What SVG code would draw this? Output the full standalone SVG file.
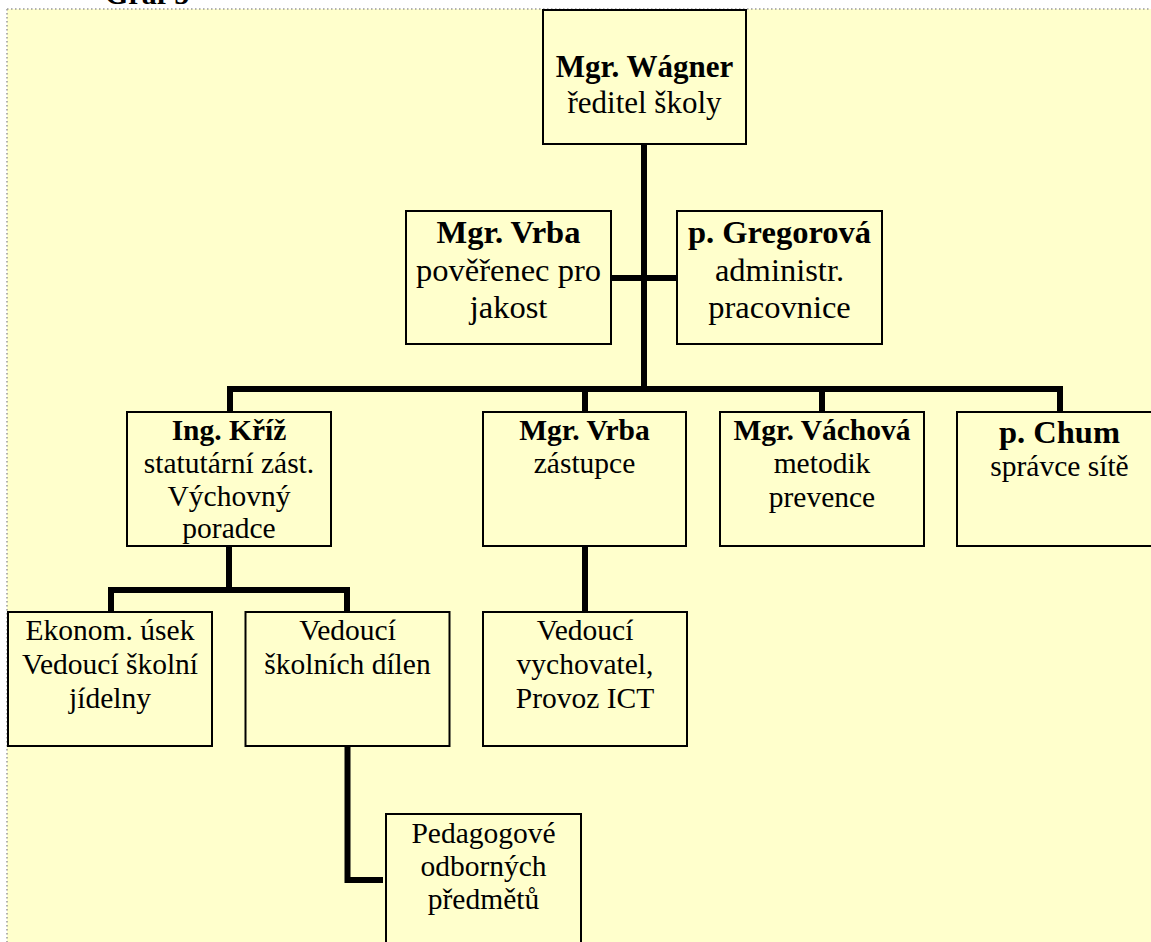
<svg xmlns="http://www.w3.org/2000/svg" width="1151" height="942" viewBox="0 0 1151 942">
<style>
.box{fill:#FFFFCC;stroke:#000;stroke-width:2}
.c{fill:none;stroke:#000;stroke-width:6;stroke-linecap:butt}
text{font-family:"Liberation Serif","Times New Roman",serif;fill:#000;text-anchor:middle}
.b{font-weight:bold}
.t31{font-size:31px}
.t32{font-size:32.5px}
.t28{font-size:29.5px}
</style>
<rect x="0" y="0" width="1151" height="942" fill="#FFFFFF"/>
<rect x="7" y="9" width="1150" height="940" fill="#FFFFCC"/>
<path d="M7 9H1151M7 9V942" fill="none" stroke="#999" stroke-width="1.5" stroke-dasharray="1.5 2.5"/>
<text x="105" y="4" class="b" style="font-size:30px;text-anchor:start">Graf 5</text>
<g id="connectors">
<path class="c" d="M644 144V389"/>
<path class="c" d="M611 278H677"/>
<path class="c" d="M227 389H1063"/>
<path class="c" d="M230 389V412M585 389V412M822 389V412M1060 389V412"/>
<path class="c" d="M229 546V590M108 590H350M111 590V612M347 590V612"/>
<path class="c" d="M585 546V612"/>
<path class="c" d="M347.5 746V880H383"/>
</g>
<g id="n-wagner">
<rect class="box" x="543" y="10" width="203" height="134"/>
<text x="644.5" y="77" class="b t31">Mgr. Wágner</text>
<text x="644.5" y="113" class="t31">ředitel školy</text>
</g>
<g id="n-vrba-jakost">
<rect class="box" x="406" y="211" width="205" height="133"/>
<text x="508.5" y="243" class="b t32">Mgr. Vrba</text>
<text x="508.5" y="281" class="t32">pověřenec pro</text>
<text x="508.5" y="318" class="t32">jakost</text>
</g>
<g id="n-gregorova">
<rect class="box" x="677" y="211" width="205" height="133"/>
<text x="779.5" y="243" class="b t32">p. Gregorová</text>
<text x="779.5" y="281" class="t32">administr.</text>
<text x="779.5" y="318" class="t32">pracovnice</text>
</g>
<g id="n-kriz">
<rect class="box" x="127" y="412" width="204" height="134"/>
<text x="229" y="440" class="b t28">Ing. Kříž</text>
<text x="229" y="473" class="t28">statutární zást.</text>
<text x="229" y="506" class="t28">Výchovný</text>
<text x="229" y="538" class="t28">poradce</text>
</g>
<g id="n-vrba-zastupce">
<rect class="box" x="483" y="412" width="203" height="134"/>
<text x="584.5" y="440" class="b t28">Mgr. Vrba</text>
<text x="584.5" y="473" class="t28">zástupce</text>
</g>
<g id="n-vachova">
<rect class="box" x="720" y="412" width="204" height="134"/>
<text x="822" y="440" class="b t28">Mgr. Váchová</text>
<text x="822" y="473" class="t28">metodik</text>
<text x="822" y="507" class="t28">prevence</text>
</g>
<g id="n-chum">
<rect class="box" x="957" y="412" width="203" height="134"/>
<text x="1059.5" y="443" class="b t32">p. Chum</text>
<text x="1059.5" y="476" class="t28">správce sítě</text>
</g>
<g id="n-ekonom">
<rect class="box" x="8" y="612" width="204" height="134"/>
<text x="110" y="640" class="t28">Ekonom. úsek</text>
<text x="110" y="674" class="t28">Vedoucí školní</text>
<text x="110" y="708" class="t28">jídelny</text>
</g>
<g id="n-dilny">
<rect class="box" x="245.5" y="612" width="204" height="134"/>
<text x="347.5" y="640" class="t28">Vedoucí</text>
<text x="347.5" y="674" class="t28">školních dílen</text>
</g>
<g id="n-vychovatel">
<rect class="box" x="483" y="612" width="204" height="134"/>
<text x="585" y="640" class="t28">Vedoucí</text>
<text x="585" y="674" class="t28">vychovatel,</text>
<text x="585" y="708" class="t28">Provoz ICT</text>
</g>
<g id="n-pedagogove">
<rect class="box" x="386" y="814" width="195" height="140"/>
<text x="483.5" y="843" class="t28">Pedagogové</text>
<text x="483.5" y="876" class="t28">odborných</text>
<text x="483.5" y="909" class="t28">předmětů</text>
</g>
</svg>
